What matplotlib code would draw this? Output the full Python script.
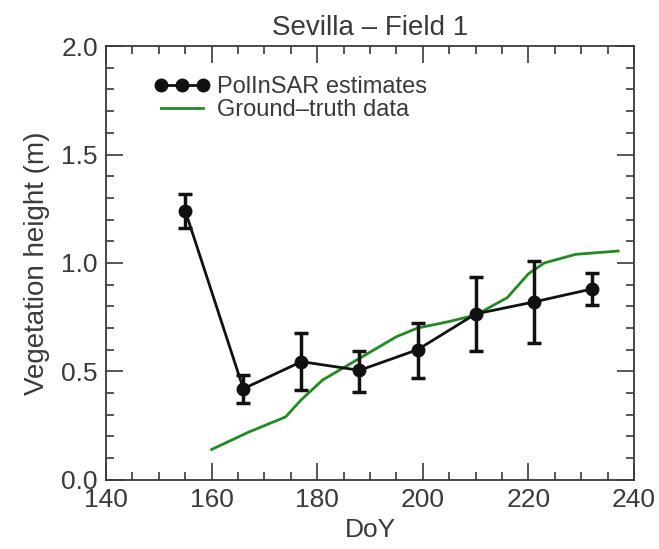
import matplotlib
matplotlib.use('Agg')
import matplotlib.pyplot as plt
from matplotlib.ticker import MultipleLocator
from matplotlib.lines import Line2D

plt.rcParams['font.family'] = ['Liberation Sans', 'DejaVu Sans']

# PolInSAR estimates
doy_est = [155, 166, 177, 188, 199, 210, 221, 232]
height_est = [1.24, 0.42, 0.545, 0.505, 0.60, 0.765, 0.82, 0.88]
err_low = [0.08, 0.065, 0.13, 0.10, 0.13, 0.17, 0.19, 0.075]
err_high = [0.08, 0.065, 0.13, 0.09, 0.125, 0.17, 0.19, 0.075]

# Ground-truth data
doy_gt = [160, 167, 174, 177, 181, 188, 195, 199, 205, 210, 216, 220, 223, 229, 237]
height_gt = [0.14, 0.22, 0.29, 0.37, 0.46, 0.56, 0.66, 0.70, 0.73, 0.76, 0.84, 0.95, 1.00, 1.04, 1.055]

txt = '#3a3a3a'
fig = plt.figure(figsize=(6.59, 5.49), dpi=100)
ax = fig.add_axes([0.161, 0.126, 0.801, 0.790])

ax.errorbar(doy_est, height_est, yerr=[err_low, err_high], color='#111111', lw=2,
            marker='o', ms=9, elinewidth=2.5, capsize=5, capthick=2.5, zorder=3)
ax.plot(doy_gt, height_gt, color='#218a21', lw=2, zorder=2)

ax.set_xlim(140, 240)
ax.set_ylim(0, 2.0)
ax.xaxis.set_major_locator(MultipleLocator(20))
ax.xaxis.set_minor_locator(MultipleLocator(5))
ax.yaxis.set_major_locator(MultipleLocator(0.5))
ax.yaxis.set_minor_locator(MultipleLocator(0.1))
ax.yaxis.set_major_formatter(plt.FormatStrFormatter('%.1f'))
ax.tick_params(which='both', direction='in', top=True, right=True, colors=txt,
               labelsize=19, width=1.2)
ax.tick_params(which='major', length=12, pad=6)
ax.tick_params(which='minor', length=6)
for s in ax.spines.values():
    s.set_color(txt)
    s.set_linewidth(1.3)

ax.set_title('Sevilla \u2013 Field 1', fontsize=20, color=txt, pad=8)
ax.set_xlabel('DoY', fontsize=19, color=txt, labelpad=4)
ax.set_ylabel('Vegetation height (m)', fontsize=20, color=txt, labelpad=8)

handles = [Line2D([], [], color='#111111', lw=2, marker='o', ms=9),
           Line2D([], [], color='#218a21', lw=2)]
ax.legend(handles, ['PolInSAR estimates', 'Ground\u2013truth data'],
          loc='upper left', numpoints=3, frameon=False, fontsize=17,
          handlelength=2.4, handletextpad=0.3, labelspacing=0.05,
          bbox_to_anchor=(0.05, 0.98), labelcolor=txt)

fig.savefig('out.png', dpi=100)
